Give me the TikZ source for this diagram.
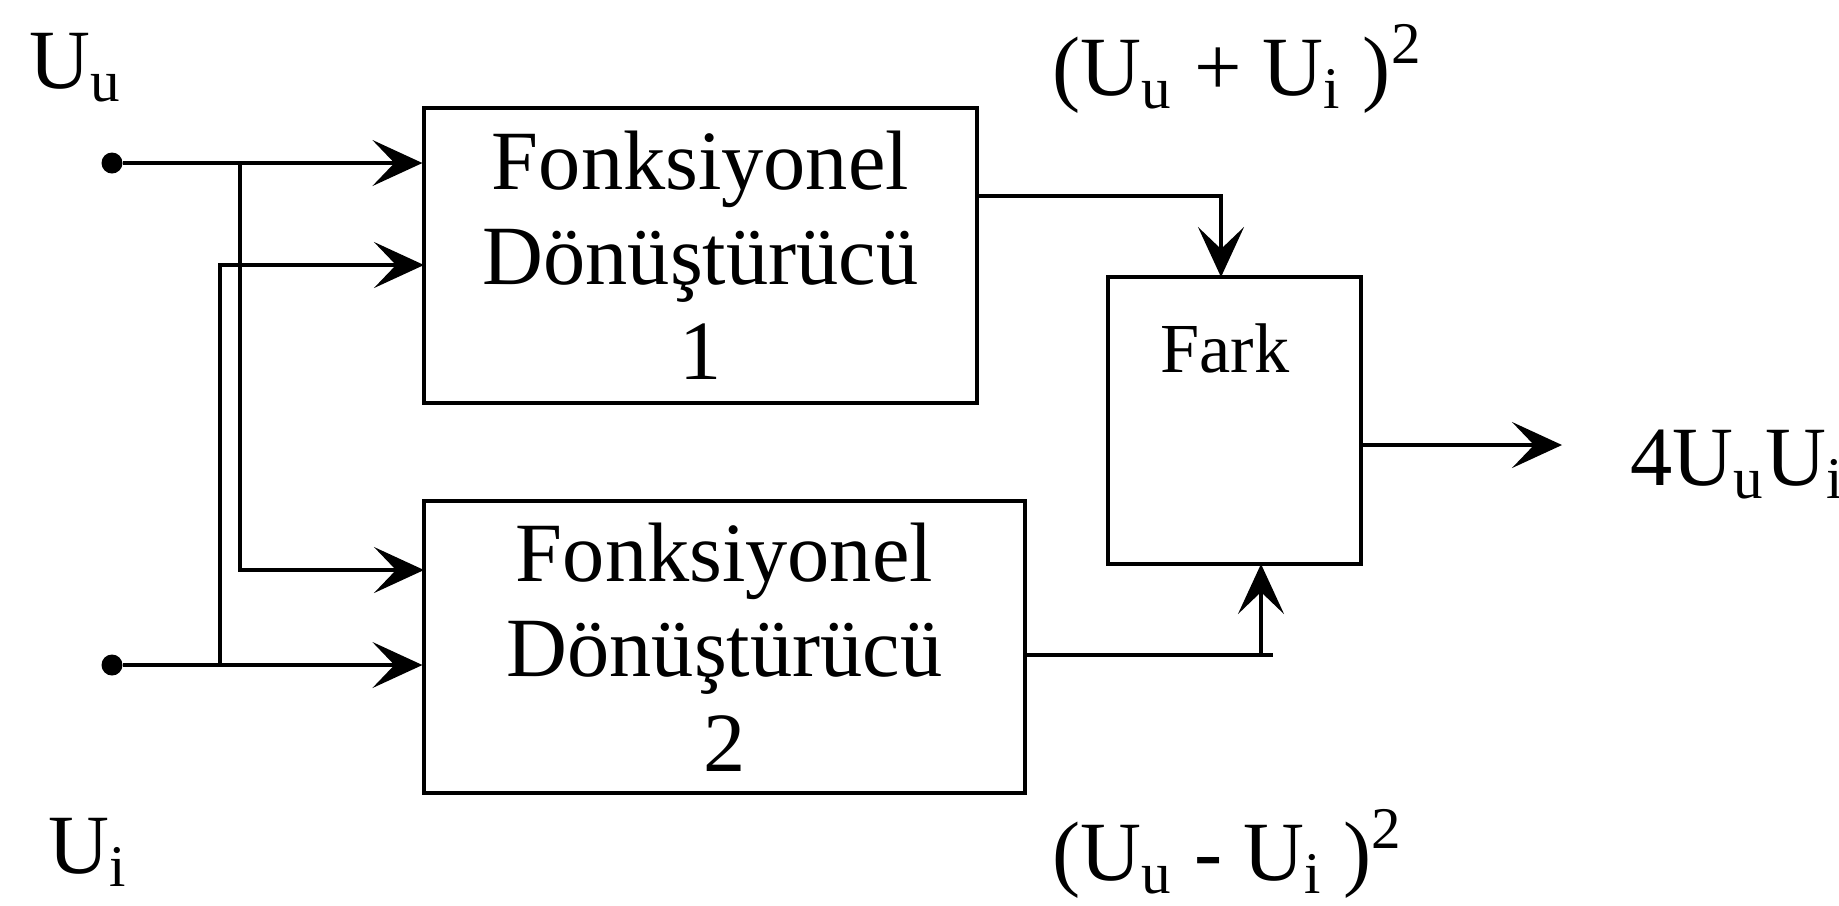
\documentclass[tikz,border=0pt]{standalone}
\usepackage{fontspec}
\setmainfont{Liberation Serif}
\usetikzlibrary{arrows.meta}
\tikzset{
    conv-box/.style = {draw, line width=0.9pt, rectangle, align=center, font=\fontsize{24}{27}\selectfont},
    fark-box/.style = {draw, line width=0.9pt, rectangle, minimum width=2.53cm, minimum height=2.87cm},
    sig-line/.style = {line width=0.9pt, -{Stealth[length=0.5cm, width=0.46cm, inset=0.22cm]}},
    plain-line/.style = {line width=0.9pt},
    in-dot/.style = {circle, fill, inner sep=0pt, minimum size=0.21cm},
    sig-label/.style = {anchor=base west, inner sep=0pt, font=\fontsize{24}{27}\selectfont},
}

\begin{document}
\begin{tikzpicture}
\useasboundingbox (0,0) rectangle (18.39,-9.05);
% blocks
\node [conv-box, minimum width=5.53cm, minimum height=2.95cm] (conv1) at (7.005,-2.555) {Fonksiyonel\\Dönüştürücü\\1};
\node [conv-box, minimum width=6.01cm, minimum height=2.92cm] (conv2) at (7.245,-6.47) {Fonksiyonel\\Dönüştürücü\\2};
\node [fark-box] (fark) at (12.345,-4.205) {};
\node [anchor=base, inner sep=0pt, font=\fontsize{20}{24}\selectfont] (fark-text) at (12.25,-3.72) {Fark};
% inputs
\node [in-dot] (uu) at (1.12,-1.63) {};
\node [in-dot] (ui) at (1.12,-6.65) {};
\coordinate (uu-branch) at (2.40,-1.63);
\coordinate (ui-branch) at (2.20,-6.65);
\coordinate (c1-in2) at (4.24,-2.65);
\coordinate (c2-in1) at (4.24,-5.70);
\draw [sig-line] (uu) -- (uu -| conv1.west);
\draw [sig-line] (uu-branch) |- (c2-in1);
\draw [sig-line] (ui) -- (ui -| conv2.west);
\draw [sig-line] (ui-branch) |- (c1-in2);
% outputs
\coordinate (c1-out) at (9.77,-1.96);
\coordinate (fark-in1) at (12.21,-2.77);
\coordinate (c2-out) at (10.25,-6.55);
\coordinate (c2-stub) at (12.73,-6.55);
\coordinate (fark-in2) at (12.61,-5.64);
\coordinate (fark-out) at (13.61,-4.45);
\coordinate (out-end) at (15.62,-4.45);
\draw [sig-line] (c1-out) -| (fark-in1);
\draw [plain-line] (c2-out) -- (c2-stub);
\draw [sig-line] (fark-in2 |- c2-out) -- (fark-in2);
\draw [sig-line] (fark-out) -- (out-end);
% labels
\node [sig-label] (uu-label) at (0.29,-0.88) {U\textsubscript{u}};
\node [sig-label] (ui-label) at (0.48,-8.73) {U\textsubscript{i}};
\node [sig-label] (sum-label) at (10.52,-0.95) {(U\textsubscript{u} + U\textsubscript{i} )\textsuperscript{2}};
\node [sig-label] (diff-label) at (10.52,-8.80) {(U\textsubscript{u} - U\textsubscript{i} )\textsuperscript{2}};
\node [sig-label] (out-label) at (16.30,-4.85) {4U\textsubscript{u}U\textsubscript{i}};
\end{tikzpicture}
\end{document}
